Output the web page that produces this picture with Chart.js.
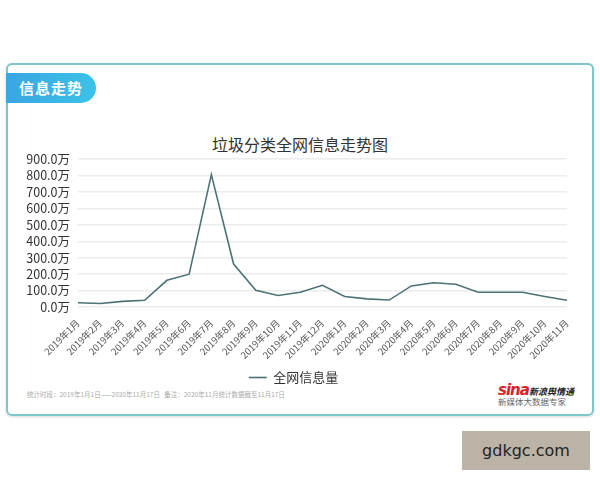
<!DOCTYPE html>
<html>
<head>
<meta charset="utf-8">
<script src="https://cdn.jsdelivr.net/npm/chart.js@4"></script>
<style>
  html, body { margin: 0; padding: 0; background: #fff; }
  #page { position: relative; width: 600px; height: 480px; overflow: hidden; font-family: "Noto Sans CJK SC", "Noto Sans", sans-serif; }
  .card { position: absolute; left: 6px; top: 63px; width: 584px; height: 349px; border: 2px solid #7cc5cb; border-radius: 6px; box-shadow: 0 1px 3px rgba(0,0,0,0.15); }
  .badge { position: absolute; left: 6px; top: 73px; width: 90px; height: 30px; border-radius: 0 15px 15px 0; background: linear-gradient(90deg, #3aa5e2, #3cc2e8); color: #fff; font-weight: bold; font-size: 15px; line-height: 30px; padding-left: 13px; box-sizing: border-box; letter-spacing: 1px; }
  .title { position: absolute; left: 0; width: 600px; top: 132px; text-align: center; font-size: 16px; color: #333; }
  .note { position: absolute; left: 27px; top: 389px; font-size: 6.5px; color: #aaa; white-space: nowrap; }
  .logo { position: absolute; left: 498px; top: 376px; white-space: nowrap; }
  .logo .sina { color: #d8232a; font-style: italic; font-weight: bold; font-size: 15px; font-family: "DejaVu Sans", sans-serif; letter-spacing: -1px; }
  .logo .yq { color: #222; font-weight: bold; font-size: 9px; font-style: italic; }
  .logo .sub { position: absolute; left: 0; top: 19px; font-size: 8.5px; color: #666; }
  .wm { position: absolute; left: 462px; top: 431px; width: 128px; height: 39px; background: #bcb3a7; color: #222; font-family: "DejaVu Sans", sans-serif; font-size: 16px; line-height: 39px; text-align: center; }
  #wrap { position: absolute; left: 0; top: 0; width: 600px; height: 480px; }
</style>
</head>
<body>
<div id="page">
  <div class="card"></div>
  <div class="badge">信息走势</div>
  <div class="title">垃圾分类全网信息走势图</div>
  <div class="note">统计时段：2019年1月1日——2020年11月17日&nbsp;&nbsp;&nbsp;备注：2020年11月统计数据截至11月17日</div>
  <div class="logo"><span class="sina">sina</span><span class="yq">新浪舆情通</span><div class="sub">新媒体大数据专家</div></div>
  <div class="wm">gdkgc.com</div>
  <div id="wrap"><canvas id="chart" width="600" height="480"></canvas></div>
</div>
<script>
// months on the x axis
const months = [
  "2019年1月", "2019年2月", "2019年3月", "2019年4月", "2019年5月", "2019年6月",
  "2019年7月", "2019年8月", "2019年9月", "2019年10月", "2019年11月", "2019年12月",
  "2020年1月", "2020年2月", "2020年3月", "2020年4月", "2020年5月", "2020年6月",
  "2020年7月", "2020年8月", "2020年9月", "2020年10月", "2020年11月"
];
// 全网信息量, in 万
const volume = [27, 22, 35, 42, 163, 200, 805, 262, 102, 71, 90, 133, 65, 50, 43, 129, 148, 139, 90, 90, 90, 65, 42];
const seriesName = "全网信息量";
const yMax = 900;
const yStep = 100;

const lineColor = "#4d7275";

new Chart(document.getElementById("chart"), {
  type: "line",
  data: {
    labels: months,
    datasets: [{
      label: seriesName,
      data: volume,
      borderColor: lineColor,
      backgroundColor: lineColor,
      borderWidth: 1.6,
      pointRadius: 0,
      tension: 0,
    }],
  },
  options: {
    responsive: false,
    animation: false,
    layout: { padding: { left: 20, right: 33, top: 159, bottom: 86 } },
    plugins: {
      tooltip: { enabled: false },
      legend: {
        position: "bottom",
        labels: {
          usePointStyle: true,
          pointStyle: "line",
          pointStyleWidth: 18,
          color: "#333",
          font: { size: 13, family: "Noto Sans CJK SC" },
          padding: 8,
        },
      },
    },
    scales: {
      x: {
        offset: false,
        grid: { display: false },
        border: { display: false },
        ticks: {
          autoSkip: false,
          minRotation: 45,
          maxRotation: 45,
          color: "#555",
          padding: 2,
          font: { size: 9.5, family: "Noto Sans CJK SC" },
        },
      },
      y: {
        min: 0,
        max: yMax,
        afterFit: (scale) => { scale.width = 58; },
        grid: { color: "#ececec", lineWidth: 1.5, drawTicks: false },
        border: { display: false },
        ticks: {
          autoSkip: false,
          stepSize: yStep,
          color: "#333",
          padding: 8,
          font: { size: 12.5, family: "Noto Sans CJK SC" },
          callback: (v) => v.toFixed(1) + "万",
        },
      },
    },
  },
});
</script>
</body>
</html>
